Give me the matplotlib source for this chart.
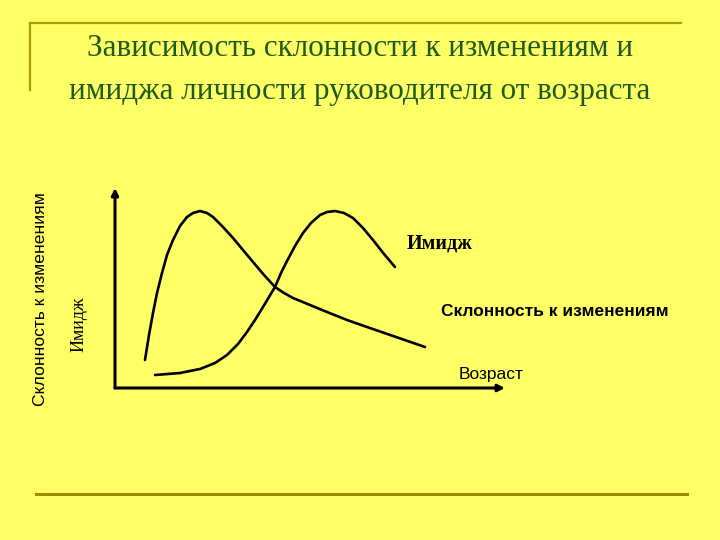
import numpy as np
import matplotlib.pyplot as plt

# Curves (age on x, level on y, arbitrary units)
change_age = [30, 34, 38, 42, 47, 52, 58, 65, 72, 78, 85, 92, 98, 108, 118, 128,
              138, 149, 160, 169, 178, 195, 212, 232, 252, 281, 310]
change_level = [28, 53, 75, 95, 115, 133, 148, 162, 171, 175, 177, 175, 171, 161,
                150, 138, 126, 113, 101, 95, 90, 83, 76, 68, 61, 51, 41]

image_age = [40, 65, 85, 100, 112, 123, 132, 140, 148, 154, 160, 166, 172, 180,
             188, 196, 205, 212, 220, 229, 238, 248, 258, 269, 280]
image_level = [13, 15, 19, 25, 33, 44, 56, 68, 81, 91, 101, 115, 127, 142, 155,
               165, 173, 176, 177, 175, 170, 160, 148, 134, 121]

title = "Зависимость склонности к изменениям и\nимиджа личности руководителя от возраста"
label_change = "Склонность к изменениям"
label_image = "Имидж"
label_age = "Возраст"

bg = '#ffff66'
deco = '#a89c00'
W, H = 720, 540

fig = plt.figure(figsize=(7.2, 5.4), dpi=100, facecolor=bg)

# decorative slide lines
fig.add_artist(plt.Line2D([30 / W, 681 / W], [1 - 23 / H, 1 - 23 / H], color=deco, lw=1.6))
fig.add_artist(plt.Line2D([30 / W, 30 / W], [1 - 23 / H, 1 - 90 / H], color=deco, lw=1.6))
fig.add_artist(plt.Line2D([36 / W, 687 / W], [1 - 494 / H, 1 - 494 / H], color='#9a8e00', lw=2.2))

# title
fig.text(360 / W, 1 - 70 / H, title, ha='center', va='center', fontsize=22.4,
         family='Liberation Serif', color='#1d5a1d', linespacing=1.6)

ax = fig.add_axes([115 / W, 1 - 388 / H, 390 / W, 200 / H])
ax.set_facecolor(bg)
ax.set_xlim(0, 390)
ax.set_ylim(0, 200)
for s in ax.spines.values():
    s.set_visible(False)
ax.set_xticks([])
ax.set_yticks([])

arrow = dict(arrowstyle='-|>', color='black', lw=2.2, mutation_scale=10,
             shrinkA=0, shrinkB=0)
ax.annotate('', xy=(1, 0), xytext=(0, 0), xycoords='axes fraction', arrowprops=arrow)
ax.annotate('', xy=(0, 1), xytext=(0, 0), xycoords='axes fraction', arrowprops=arrow)

ax.plot(change_age, change_level, color='black', lw=1.9, solid_joinstyle='round',
        solid_capstyle='round', clip_on=False)
ax.plot(image_age, image_level, color='black', lw=1.9, solid_joinstyle='round',
        solid_capstyle='round', clip_on=False)

# labels
fig.text(440 / W, 1 - 243 / H, label_image, ha='center', va='center', fontsize=14.5,
         family='Liberation Serif', weight='bold')
fig.text(555 / W, 1 - 311 / H, label_change, ha='center', va='center', fontsize=12.5,
         family='Liberation Sans', weight='bold')
fig.text(491 / W, 1 - 375 / H, label_age, ha='center', va='center', fontsize=12.5,
         family='Liberation Sans')
fig.text(41 / W, 1 - 299 / H, label_change, ha='center', va='center', fontsize=12.6,
         family='Liberation Sans', rotation=90)
fig.text(79 / W, 1 - 324 / H, label_image, ha='center', va='center', fontsize=13,
         family='Liberation Serif', rotation=90)

fig.savefig('out.png', dpi=100, facecolor=bg)
